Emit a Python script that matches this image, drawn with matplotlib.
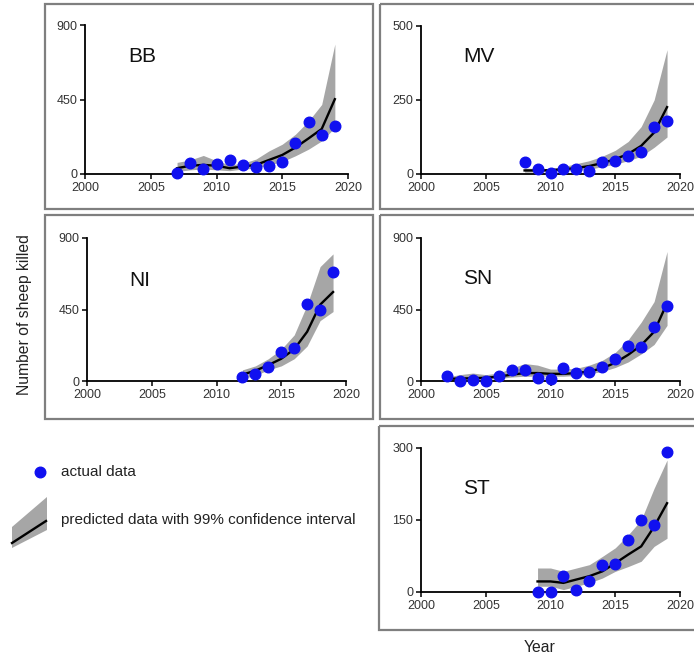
import matplotlib
matplotlib.use("Agg")
import matplotlib.pyplot as plt
from matplotlib.patches import Rectangle, Polygon

plt.rcParams['font.family'] = ['Liberation Sans', 'DejaVu Sans']

W, H = 694, 655

# ---- data ----
bb_years = list(range(2007, 2020))
bb_actual = [4, 69, 32, 63, 87, 53, 43, 51, 73, 187, 316, 235, 288]
bb_pred = [35, 50, 55, 50, 35, 45, 55, 85, 115, 160, 215, 272, 452]
bb_upper = [70, 85, 112, 80, 55, 65, 90, 140, 180, 240, 320, 420, 785]
bb_lower = [15, 25, 30, 25, 20, 30, 35, 55, 75, 110, 150, 200, 280]

mv_years = list(range(2008, 2020))
mv_actual = [41, 18, 3, 18, 18, 9, 41, 45, 61, 73, 158, 178]
mv_pred = [12, 12, 13, 16, 20, 27, 37, 50, 68, 95, 140, 226]
mv_upper = [20, 18, 18, 25, 35, 45, 60, 80, 110, 160, 250, 420]
mv_lower = [6, 7, 8, 10, 12, 16, 25, 33, 45, 60, 90, 125]

ni_years = list(range(2012, 2020))
ni_actual = [25, 42, 86, 184, 207, 483, 445, 684]
ni_pred = [40, 65, 100, 140, 200, 310, 480, 560]
ni_upper = [70, 95, 140, 200, 290, 480, 720, 800]
ni_lower = [15, 35, 70, 95, 140, 220, 380, 437]

sn_years = list(range(2002, 2020))
sn_actual = [31, 0, 4, 2, 29, 67, 69, 21, 13, 79, 48, 56, 86, 140, 221, 213, 338, 470]
sn_pred = [15, 15, 18, 20, 28, 40, 50, 50, 45, 45, 50, 60, 80, 115, 165, 225, 310, 490]
sn_upper = [25, 40, 50, 40, 50, 80, 110, 100, 75, 75, 80, 100, 130, 180, 260, 370, 500, 815]
sn_lower = [5, 5, 8, 10, 15, 25, 30, 30, 30, 30, 35, 45, 60, 85, 120, 170, 230, 350]

st_years = list(range(2009, 2020))
st_actual = [1, 1, 34, 5, 23, 57, 58, 109, 151, 140, 291]
st_pred = [22, 22, 19, 26, 33, 43, 60, 78, 95, 136, 185]
st_upper = [50, 50, 43, 50, 57, 74, 92, 119, 150, 216, 275]
st_lower = [12, 12, 5, 12, 19, 29, 43, 53, 64, 95, 112]

panels = [
    # name, years, actual, pred, upper, lower, ymax, axes px (left, right, top, bottom), label px, box px (x0, y0, x1, y1)
    ("BB", bb_years, bb_actual, bb_pred, bb_upper, bb_lower, 900, (85, 348, 25, 174), (128, 57), (45, 4, 373, 209)),
    ("MV", mv_years, mv_actual, mv_pred, mv_upper, mv_lower, 500, (421, 680, 26, 174), (463, 57), (380, 4, 700, 209)),
    ("NI", ni_years, ni_actual, ni_pred, ni_upper, ni_lower, 900, (87, 346, 238, 381), (129, 281), (45, 215, 373, 419)),
    ("SN", sn_years, sn_actual, sn_pred, sn_upper, sn_lower, 900, (421, 680, 238, 381), (463, 278), (380, 215, 700, 419)),
    ("ST", st_years, st_actual, st_pred, st_upper, st_lower, 300, (421, 680, 448, 592), (463, 488), (379, 426, 700, 630)),
]

fig = plt.figure(figsize=(W / 100, H / 100), dpi=100)

# background layer for boxes and legend, in pixel coordinates
bg = fig.add_axes([0, 0, 1, 1])
bg.set_xlim(0, W)
bg.set_ylim(H, 0)
bg.axis('off')

for name, yrs, act, pred, up, lo, ymax, (l, r, t, b), (lx, ly), (x0, y0, x1, y1) in panels:
    bg.add_patch(Rectangle((x0, y0), x1 - x0, y1 - y0, fill=False,
                           edgecolor='#7f7f7f', lw=1.6))
    ax = fig.add_axes([l / W, 1 - b / H, (r - l) / W, (b - t) / H])
    ax.patch.set_alpha(0)
    ax.fill_between(yrs, lo, up, color='#a6a6a6', lw=0)
    ax.plot(yrs, pred, color='black', lw=1.7)
    ax.plot(yrs, act, 'o', color='#1010f0', ms=7.6, clip_on=False, zorder=5)
    ax.set_xlim(2000, 2020)
    ax.set_ylim(0, ymax)
    ax.set_xticks([2000, 2005, 2010, 2015, 2020])
    ax.set_yticks([0, ymax // 2, ymax])
    for s in ['top', 'right']:
        ax.spines[s].set_visible(False)
    for s in ['left', 'bottom']:
        ax.spines[s].set_linewidth(1.3)
    ax.tick_params(direction='out', length=3.5, width=1.1, labelsize=9,
                   labelcolor='#333333', pad=2)
    fig.text(lx / W, 1 - ly / H, name, fontsize=15, va='center', ha='left', color='#111111')

fig.text(25 / W, 1 - 315 / H, "Number of sheep killed", rotation=90,
         fontsize=11.3, va='center', ha='center', color='#222222')
fig.text(540 / W, 1 - 648 / H, "Year", fontsize=11.3, va='center', ha='center', color='#222222')

# legend
bg.plot([40], [472], 'o', color='#1010f0', ms=7.6)
bg.text(61, 472, "actual data", fontsize=11, va='center', ha='left', color='#222222')
bg.add_patch(Polygon([(12, 527), (47, 497), (47, 530), (12, 548)], closed=True,
                     facecolor='#a6a6a6', edgecolor='none'))
bg.plot([12, 46], [543, 521], color='black', lw=1.7)
bg.text(61, 520, "predicted data with 99% confidence interval", fontsize=11,
        va='center', ha='left', color='#222222')

fig.savefig("out.png", dpi=100)
